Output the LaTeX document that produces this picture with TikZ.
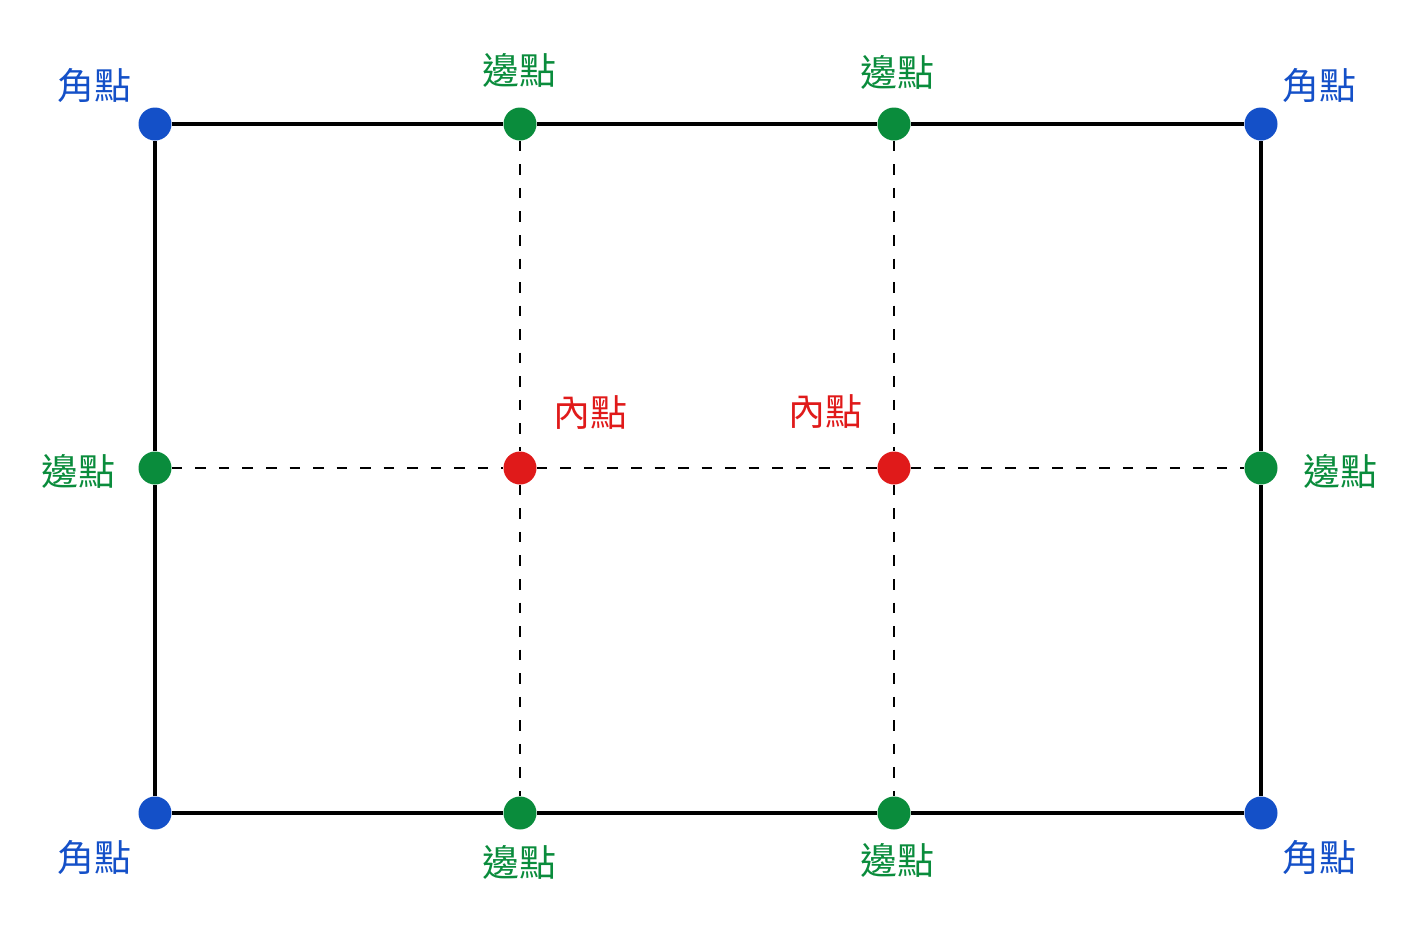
\documentclass[tikz,border=0pt]{standalone}
\usepackage{fontspec}
\newfontfamily\cjk{Noto Sans CJK TC}
\usepackage{tikz}
\usetikzlibrary{positioning}
\definecolor{cornerblue}{HTML}{1450C8}
\definecolor{edgegreen}{HTML}{0A8C3C}
\definecolor{innerred}{HTML}{E01A1A}
\tikzset{
  dot/.style={circle, inner sep=0pt, minimum size=0.66cm},
  lbl/.style={font=\cjk\fontsize{21}{25}\selectfont, inner sep=0pt}
}

\begin{document}
\begin{tikzpicture}[x=0.02cm, y=-0.02cm]
    \useasboundingbox (0, 0) rectangle (1416, 944);

    % corners
    \node [dot, fill=cornerblue] (c-tl) at (155, 124) {};
    \node [dot, fill=cornerblue] (c-tr) at (1261, 124) {};
    \node [dot, fill=cornerblue] (c-bl) at (155, 813) {};
    \node [dot, fill=cornerblue] (c-br) at (1261, 813) {};

    % edge points
    \node [dot, fill=edgegreen] (e-t1) at (520, 124) {};
    \node [dot, fill=edgegreen] (e-t2) at (894, 124) {};
    \node [dot, fill=edgegreen] (e-b1) at (520, 813) {};
    \node [dot, fill=edgegreen] (e-b2) at (894, 813) {};
    \node [dot, fill=edgegreen] (e-l) at (155, 468) {};
    \node [dot, fill=edgegreen] (e-r) at (1261, 468) {};

    % inner points
    \node [dot, fill=innerred] (i-1) at (520, 468) {};
    \node [dot, fill=innerred] (i-2) at (894, 468) {};

    \draw [line width=2.7pt] (c-tl) -- (e-t1) -- (e-t2) -- (c-tr)
    -- (e-r) -- (c-br) -- (e-b2) -- (e-b1) -- (c-bl) -- (e-l) -- (c-tl);

    \draw [line width=1.4pt, dash pattern=on 6pt off 7.4pt]
    (e-t1) -- (i-1) -- (e-b1)
    (e-t2) -- (i-2) -- (e-b2)
    (e-l) -- (i-1) -- (i-2) -- (e-r);

    \node [lbl, cornerblue] (l-tl) at (94, 86) {角點};
    \node [lbl, cornerblue] (l-tr) at (1319, 86) {角點};
    \node [lbl, cornerblue] (l-bl) at (94, 857) {角點};
    \node [lbl, cornerblue] (l-br) at (1319, 857) {角點};

    \node [lbl, edgegreen] (l-t1) at (519, 70) {邊點};
    \node [lbl, edgegreen] (l-t2) at (897, 72) {邊點};
    \node [lbl, edgegreen] (l-b1) at (519, 862) {邊點};
    \node [lbl, edgegreen] (l-b2) at (897, 860) {邊點};
    \node [lbl, edgegreen] (l-l) at (78, 471) {邊點};
    \node [lbl, edgegreen] (l-r) at (1340, 471) {邊點};

    \node [lbl, innerred] (l-i1) at (590, 413) {內點};
    \node [lbl, innerred] (l-i2) at (825, 412) {內點};

  \end{tikzpicture}
\end{document}
